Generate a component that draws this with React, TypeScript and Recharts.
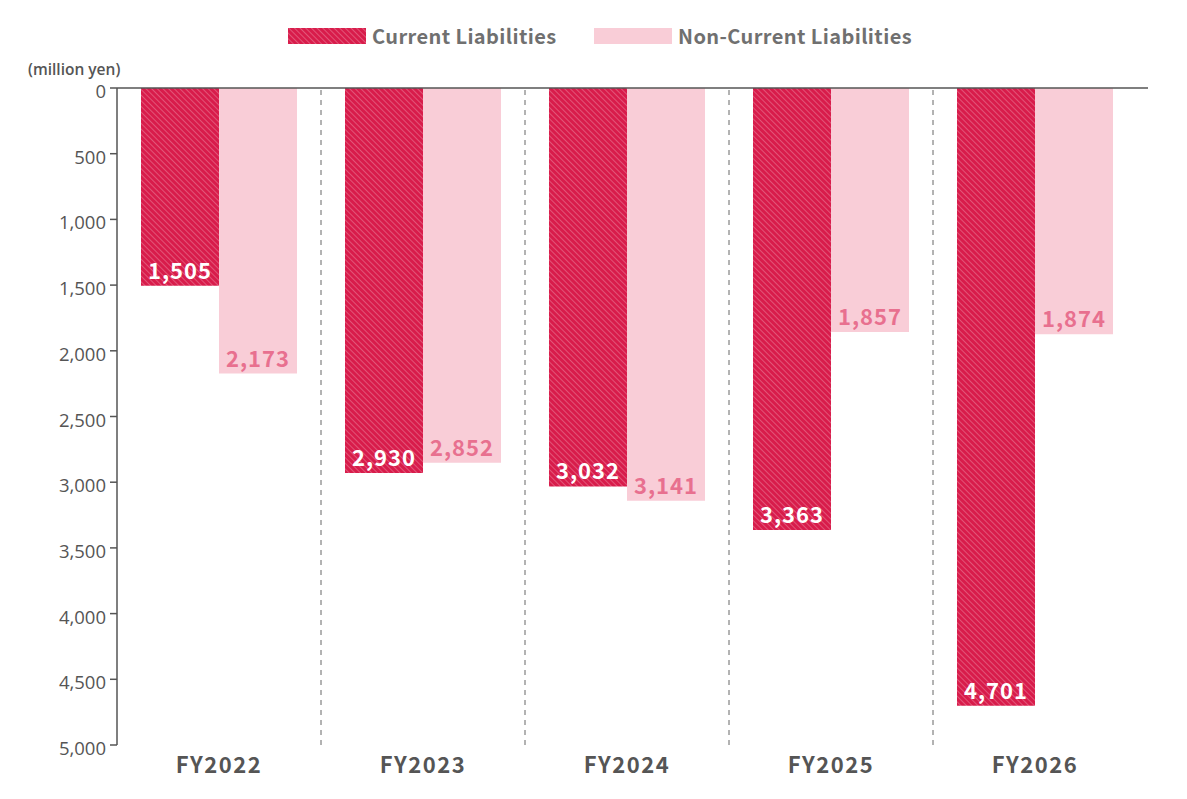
import {
  Bar,
  BarChart,
  LabelList,
  ReferenceLine,
  XAxis,
  YAxis,
} from "recharts";

// liabilities by fiscal year (million yen)
const YEARS = ["FY2022", "FY2023", "FY2024", "FY2025", "FY2026"];
const CURRENT = [1505, 2930, 3032, 3363, 4701];
const NON_CURRENT = [2173, 2852, 3141, 1857, 1874];
const Y_TICKS = [0, 500, 1000, 1500, 2000, 2500, 3000, 3500, 4000, 4500, 5000];
const SEPARATORS = [1, 2, 3, 4];

const CRIMSON = "#d81c4b";
const PINK = "#f9cdd7";
const PINK_TEXT = "#e8708f";
const GREY = "#555555";

const data = YEARS.map((year, i) => ({
  year,
  idx: i + 0.5,
  current: CURRENT[i],
  nonCurrent: NON_CURRENT[i],
}));

const BOLD_FONT = "'Noto Sans CJK JP', 'Noto Sans', sans-serif";
const TICK_FONT = "'Open Sans', 'Noto Sans', sans-serif";

const HatchPattern = ({ id }: { id: string }) => (
  <pattern id={id} width="4" height="4" patternUnits="userSpaceOnUse" patternTransform="rotate(-45)">
    <rect width="4" height="4" fill={CRIMSON} />
    <line x1="0" y1="0" x2="0" y2="4" stroke="rgba(255,255,255,0.5)" strokeWidth="1" />
  </pattern>
);

const ValueLabel = ({ x, y, width, height, value, color }: any) => {
  const bottom = Math.max(y, y + height);
  return (
    <text
      x={x + width / 2}
      y={bottom - 7}
      textAnchor="middle"
      fill={color}
      fontSize={22}
      fontWeight={700}
      letterSpacing={1}
      fontFamily={BOLD_FONT}
    >
      {Number(value).toLocaleString("en-US")}
    </text>
  );
};

const YearTick = ({ x, y, payload }: any) => (
  <text
    x={x}
    y={y + 20}
    textAnchor="middle"
    fill={GREY}
    fontSize={22}
    fontWeight={700}
    letterSpacing={1.5}
    fontFamily={BOLD_FONT}
  >
    {payload.value}
  </text>
);

const ValueTick = ({ x, y, payload }: any) => (
  <text
    x={x}
    y={y + 10}
    textAnchor="end"
    fill={GREY}
    fontSize={18.5}
    fontFamily={TICK_FONT}
  >
    {Number(payload.value).toLocaleString("en-US")}
  </text>
);

const legendItems = [
  { label: "Current Liabilities", hatch: true, left: 288 },
  { label: "Non-Current Liabilities", hatch: false, left: 594 },
];

export default function App() {
  return (
    <div style={{ position: "absolute", left: 0, top: 0, width: 1187, height: 799, background: "#fff" }}>
      {/* legend */}
      {legendItems.map((it) => (
        <div
          key={it.label}
          style={{ position: "absolute", left: it.left, top: 22, display: "flex", alignItems: "center", gap: 6 }}
        >
          <svg width={78} height={16}>
            <defs>
              <HatchPattern id="hatch-legend" />
            </defs>
            <rect width={78} height={16} fill={it.hatch ? "url(#hatch-legend)" : PINK} />
          </svg>
          <span
            style={{
              fontFamily: BOLD_FONT,
              fontWeight: 700,
              fontSize: 20,
              letterSpacing: 0.4,
              color: "#707070",
              lineHeight: "28px",
            }}
          >
            {it.label}
          </span>
        </div>
      ))}
      <div
        style={{
          position: "absolute",
          left: 28,
          top: 58,
          fontFamily: TICK_FONT,
          fontWeight: 600,
          fontSize: 15.5,
          color: GREY,
        }}
      >
        (million yen)
      </div>
      <BarChart
        width={1187}
        height={799}
        data={data}
        margin={{ top: 88, right: 50, bottom: 24, left: 0 }}
        barGap={0}
        barSize={78}
      >
        <defs>
          <HatchPattern id="hatch" />
        </defs>
        <XAxis xAxisId="sep" dataKey="idx" type="number" domain={[0, 5]} hide />
        <XAxis
          dataKey="year"
          axisLine={false}
          tickLine={false}
          height={30}
          tick={<YearTick />}
          interval={0}
        />
        <YAxis
          reversed
          domain={[0, 5000]}
          ticks={Y_TICKS}
          width={117}
          tickSize={7}
          tickMargin={4}
          stroke={GREY}
          axisLine={{ stroke: GREY, strokeWidth: 1.5 }}
          tickLine={{ stroke: GREY, strokeWidth: 1.5 }}
          tick={<ValueTick />}
          interval={0}
        />
        {SEPARATORS.map((s) => (
          <ReferenceLine
            key={s}
            xAxisId="sep"
            x={s}
            stroke="#666"
            strokeDasharray="5 5"
            strokeWidth={1}
          />
        ))}
        {/* zero line runs a little past the last category */}
        <ReferenceLine
          xAxisId="sep"
          segment={[{ x: 0, y: 0 }, { x: 5.054, y: 0 }]}
          ifOverflow="visible"
          stroke={GREY}
          strokeWidth={1.5}
        />
        <Bar dataKey="current" name="Current Liabilities" fill="url(#hatch)" isAnimationActive={false}>
          <LabelList dataKey="current" content={<ValueLabel color="#ffffff" />} />
        </Bar>
        <Bar dataKey="nonCurrent" name="Non-Current Liabilities" fill={PINK} isAnimationActive={false}>
          <LabelList dataKey="nonCurrent" content={<ValueLabel color={PINK_TEXT} />} />
        </Bar>
      </BarChart>
    </div>
  );
}
